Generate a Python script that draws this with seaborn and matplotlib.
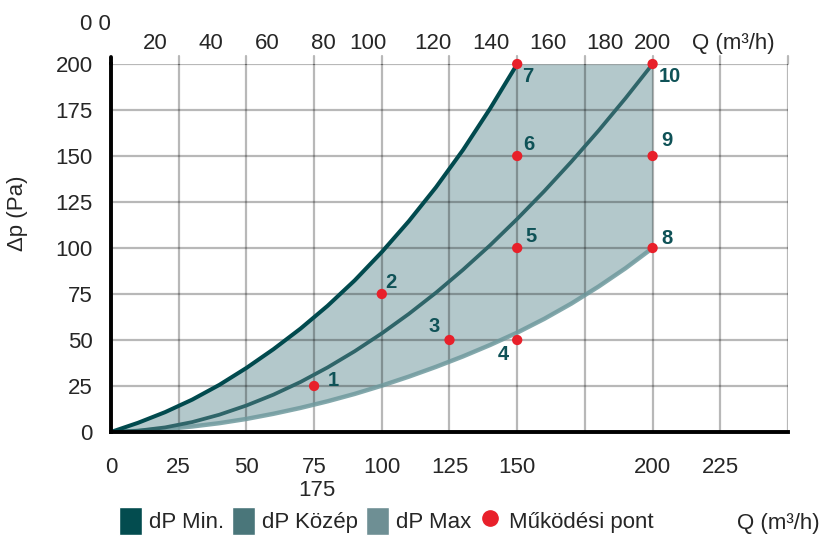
import numpy as np
import pandas as pd
import matplotlib.pyplot as plt
import seaborn as sns
from matplotlib.patches import Patch
from matplotlib.lines import Line2D
from matplotlib.transforms import blended_transform_factory

# curves (Q in m3/h, dp in Pa)
q_min = [0, 10, 20, 30, 40, 50, 60, 70, 80, 90, 100, 110, 120, 130, 140, 150]
dp_min = [0, 5, 10.8, 17.6, 25.6, 34.8, 45, 56.2, 68.6, 82.4, 97.8, 114.6, 133, 153.3, 175.8, 200]

q_mid = [0, 10, 20, 30, 40, 50, 60, 70, 80, 90, 100, 110, 120, 130, 140, 150, 160, 170, 180, 190, 200]
dp_mid = [0, 0.7, 2.5, 5.4, 9.4, 14.4, 20.3, 27.2, 35.1, 43.9, 53.6, 64.2, 75.7, 88.2, 101.5,
          115.8, 130.9, 146.9, 163.7, 181.4, 200]

q_max = [0, 10, 20, 30, 40, 50, 60, 70, 80, 90, 100, 110, 120, 130, 140, 150, 160, 170, 180, 190, 200]
dp_max = [0, 0.6, 1.6, 3, 4.8, 7.1, 9.9, 13.1, 16.7, 20.7, 25.2, 30.1, 35.4, 41.1, 47.3,
          54, 61.5, 69.8, 79, 89, 100]

# operating points
pt_q = [75, 100, 125, 150, 150, 150, 150, 200, 200, 200]
pt_dp = [25, 75, 50, 50, 100, 150, 200, 100, 150, 200]
pt_lbl = ["1", "2", "3", "4", "5", "6", "7", "8", "9", "10"]

x_ticks = [0, 25, 50, 75, 100, 125, 150, 175, 200, 225, 250]
x_tick_lbl = ["0", "25", "50", "75", "100", "125", "150", "", "200", "225", ""]
y_ticks = [0, 25, 50, 75, 100, 125, 150, 175, 200]
top_lbl = ["20", "40", "60", "80", "100", "120", "140", "160", "180", "200"]
top_pos = [16.2, 36.9, 57.6, 78.3, 94.9, 118.9, 140.3, 161.4, 182.4, 199.9]

C_MIN = "#014a4e"
C_MID = "#2f6569"
C_MAX = "#6f9a9e"
C_FILL = "#b3c8cb"
C_RED = "#e8202a"
C_LBL = "#0f5257"
C_LEG = ["#034c4f", "#4a767a", "#6e8f94"]
FS = 16

sns.set_style("white")
plt.rcParams["font.family"] = ["Liberation Sans", "DejaVu Sans"]

fig = plt.figure(figsize=(8.19, 5.41), dpi=100)
ax = fig.add_axes([111 / 819, 1 - 432 / 541, 677 / 819, 368 / 541])

# filled operating range: below the min curve (capped at 200) and above the max curve
upper = np.interp(q_max, q_min + [200], dp_min + [200])
ax.fill_between(q_max, dp_max, upper, color=C_FILL, lw=0, zorder=1)

curves = pd.concat([
    pd.DataFrame({"Q": q_min, "dp": dp_min, "s": "dP Min."}),
    pd.DataFrame({"Q": q_mid, "dp": dp_mid, "s": "dP Közép"}),
    pd.DataFrame({"Q": q_max, "dp": dp_max, "s": "dP Max"}),
])
sns.lineplot(data=curves[curves.s == "dP Max"], x="Q", y="dp", color=C_MAX,
             lw=3.2, alpha=0.85, ax=ax, zorder=2, legend=False)
sns.lineplot(data=curves[curves.s == "dP Közép"], x="Q", y="dp", color=C_MID,
             lw=2.7, ax=ax, zorder=2, legend=False)
sns.lineplot(data=curves[curves.s == "dP Min."], x="Q", y="dp", color=C_MIN,
             lw=2.9, ax=ax, zorder=2, legend=False)

pts = pd.DataFrame({"Q": pt_q, "dp": pt_dp, "lbl": pt_lbl})
sns.scatterplot(data=pts, x="Q", y="dp", color=C_RED, s=55, edgecolor="none",
                ax=ax, zorder=4, clip_on=False)
offs = [(19, 6), (9, 12), (-15, 13), (-14, -15), (14, 12),
        (12, 12), (11, -12), (14, 10), (14, 16), (17, -12)]
for (_, r), (dx, dy) in zip(pts.iterrows(), offs):
    ax.annotate(r.lbl, (r.Q, r.dp), xytext=(dx, dy), textcoords="offset pixels",
                ha="center", va="center", fontsize=14.5, fontweight="bold",
                color=C_LBL, zorder=5)

ax.set_xlim(0, 250)
ax.set_ylim(0, 200)
ax.set_xticks(x_ticks)
ax.set_xticklabels(x_tick_lbl)
ax.set_yticks(y_ticks)
ax.tick_params(axis="both", length=0, labelsize=FS)
ax.tick_params(axis="x", pad=18)
ax.tick_params(axis="y", pad=13)
ax.grid(True, color="black", alpha=0.28, lw=1.6)
ax.set_axisbelow("line")
ax.set_xlabel("")
ax.set_ylabel("")
for s in ["top", "right"]:
    ax.spines[s].set_visible(False)
for s in ["left", "bottom"]:
    ax.spines[s].set_linewidth(2.8)
    ax.spines[s].set_color("black")

# little ticks above the top edge and the left spine stub
trans = blended_transform_factory(ax.transData, ax.transAxes)
for xt in x_ticks[1:]:
    ax.plot([xt, xt], [1, 1.022], color="black", alpha=0.28, lw=1.6,
            transform=trans, clip_on=False)
ax.plot([0, 0], [1, 1.02], color="black", lw=2.8, transform=trans, clip_on=False)

for lbl, xp in zip(top_lbl, top_pos):
    ax.text(xp, 1.055, lbl, transform=trans, ha="center", va="center", fontsize=FS)
ax.text(214.5, 1.055, "Q (m³/h)", transform=trans, ha="left", va="center", fontsize=FS)
fig.text(95 / 819, 1 - 25 / 541, "0 0", ha="center", va="center", fontsize=FS)
fig.text(317 / 819, 1 - 490 / 541, "175", ha="center", va="center", fontsize=FS)
fig.text(18 / 819, 1 - 213 / 541, "Δp (Pa)", rotation=90, ha="center", va="center",
         fontsize=FS)
fig.text(778 / 819, 1 - 524 / 541, "Q (m³/h)", ha="center", va="center", fontsize=FS)

handles = [Patch(facecolor=C_LEG[0]), Patch(facecolor=C_LEG[1]), Patch(facecolor=C_LEG[2]),
           Line2D([], [], ls="none", marker="o", color=C_RED, markersize=11)]
fig.legend(handles, ["dP Min.", "dP Közép", "dP Max", "Működési pont"], ncol=4,
           loc="center", bbox_to_anchor=(386 / 819, 1 - 521 / 541), frameon=False,
           fontsize=FS, handlelength=1.05, handleheight=1.5, handletextpad=0.3,
           columnspacing=0.35, borderpad=0)

fig.savefig("out.png", dpi=100)
